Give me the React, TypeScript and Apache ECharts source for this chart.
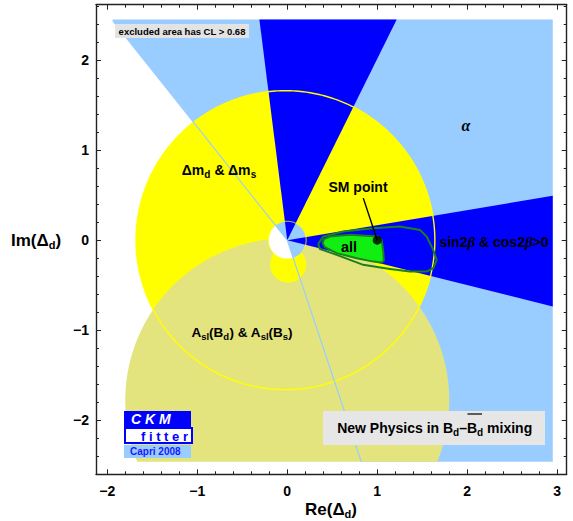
import React, { useEffect, useRef } from 'react';
import * as echarts from 'echarts';

type P = [number, number];

// ---------------- data ----------------
const xRange = [-2.125, 3.105];
const yRange = [-2.6, 2.615];
// constraint area actually scanned: [xmin, xmax, ymin, ymax]
const scanBox = [-1.94, 2.95, -2.46, 2.45];
// alpha constraint: allowed wedge (degrees, counter-clockwise from a0 to a1)
const alphaWedge = [-71.5, 128.5];
// sin2beta & cos2beta>0 wedges (degrees)
const betaWedges = [
  [-14.0, 9.5],
  [63.6, 97.2],
];
// Delta m_d & Delta m_s : circle [cx, cy, r] and inner hole radius
const dmCircle = [-0.02, 0.0, 1.66];
const dmHoleR = 0.21;
// A_sl(B_d) & A_sl(B_s) : circle [cx, cy, r]
const aslCircle = [0.0, -1.78, 1.8];
// small Delta m patch below the origin [cx, cy, r]
const dmSpot = [0.01, -0.27, 0.2];
// combined fit ("all") : 68% region and outer contour
const allInner: P[] = [
  [0.393, -0.033], [0.408, 0.011], [0.474, 0.04], [0.697, 0.059], [1.011, 0.04],
  [1.049, 0.003], [1.067, -0.127], [1.074, -0.227], [1.049, -0.249], [0.956, -0.238],
  [0.771, -0.2], [0.549, -0.144], [0.419, -0.078],
];
const allOuter: P[] = [
  [0.344, -0.041], [0.4, 0.04], [0.622, 0.096], [0.956, 0.133], [1.252, 0.151],
  [1.474, 0.114], [1.549, 0.04], [1.622, -0.108], [1.66, -0.219], [1.622, -0.311],
  [1.549, -0.349], [1.363, -0.349], [1.141, -0.319], [0.844, -0.274], [0.549, -0.163],
  [0.363, -0.097],
];
const smPoint: P = [1.0, 0.0];
const smPointerStart: P = [0.845, 0.467];

// ---------------- geometry helpers ----------------
const rad = (d: number) => (d * Math.PI) / 180;

function arc(cx: number, cy: number, r: number, a0: number, a1: number, step = 1): P[] {
  const pts: P[] = [];
  const n = Math.max(2, Math.ceil(Math.abs(a1 - a0) / step));
  for (let i = 0; i <= n; i++) {
    const a = rad(a0 + ((a1 - a0) * i) / n);
    pts.push([cx + r * Math.cos(a), cy + r * Math.sin(a)]);
  }
  return pts;
}

function wedge(a0: number, a1: number, r = 20): P[] {
  return [[0, 0] as P, ...arc(0, 0, r, a0, a1)];
}

function clipPoly(poly: P[], box: number[]): P[] {
  const [x0, x1, y0, y1] = box;
  const planes: [number, number, number][] = [
    [0, x0, 1], [0, x1, -1], [1, y0, 1], [1, y1, -1],
  ];
  let out = poly;
  for (const [ax, v, sg] of planes) {
    const inp = out;
    out = [];
    if (!inp.length) break;
    const inside = (p: P) => sg * (p[ax] - v) >= 0;
    const inter = (a: P, b: P): P => {
      const t = (v - a[ax]) / (b[ax] - a[ax]);
      return [a[0] + t * (b[0] - a[0]), a[1] + t * (b[1] - a[1])];
    };
    for (let i = 0; i < inp.length; i++) {
      const cur = inp[i];
      const prev = inp[(i + inp.length - 1) % inp.length];
      const ci = inside(cur);
      const pi = inside(prev);
      if (ci) {
        if (!pi) out.push(inter(prev, cur));
        out.push(cur);
      } else if (pi) out.push(inter(prev, cur));
    }
  }
  return out;
}

function rayEnd(angle: number, box: number[]): P {
  const [x0, x1, y0, y1] = box;
  const c = Math.cos(rad(angle));
  const s = Math.sin(rad(angle));
  let t = Infinity;
  if (c > 1e-9) t = Math.min(t, x1 / c);
  if (c < -1e-9) t = Math.min(t, x0 / c);
  if (s > 1e-9) t = Math.min(t, y1 / s);
  if (s < -1e-9) t = Math.min(t, y0 / s);
  return [t * c, t * s];
}

function polySeries(points: P[], style: any, kind: 'polygon' | 'polyline' = 'polygon') {
  return {
    type: 'custom',
    coordinateSystem: 'cartesian2d',
    silent: true,
    data: [[0, 0]],
    renderItem: (_params: any, api: any) => ({
      type: kind,
      shape: { points: points.map((p) => api.coord(p)) },
      style,
    }),
  };
}

// ---------------- colours ----------------
const LIGHT_BLUE = '#99ccff';
const DARK_BLUE = '#0000ff';
const YELLOW = '#ffff00';
const KHAKI = '#e4e47e';
const GREEN = '#11ee11';
const DARK_GREEN = '#1a801a';
const FONT = '"Liberation Sans", Arial, Helvetica, sans-serif';

const fmt = (v: number) => {
  const r = Math.round(v * 1000) / 1000;
  return Number.isInteger(r) ? String(r).replace('-', '\u2212') : '';
};

export default function App() {
  const ref = useRef<HTMLDivElement>(null);

  useEffect(() => {
    if (!ref.current) return;
    const chart = echarts.init(ref.current, undefined, { renderer: 'svg' });

    const axisCommon = {
      type: 'value',
      splitNumber: 5,
      axisLine: { show: true, onZero: false, lineStyle: { color: '#222', width: 1.4 } },
      axisTick: { show: true, inside: true, length: 5, lineStyle: { color: '#222', width: 1 } },
      minorTick: { show: true, splitNumber: 5, length: 3, lineStyle: { color: '#222', width: 1 } },
      splitLine: { show: false },
    };
    const labelStyle = { color: '#000', fontWeight: 'bold', fontSize: 14, fontFamily: FONT, formatter: fmt };

    const series: any[] = [];
    // alpha
    series.push(polySeries(clipPoly(wedge(alphaWedge[0], alphaWedge[1]), scanBox), { fill: LIGHT_BLUE }));
    // Delta m disk
    series.push(polySeries(arc(dmCircle[0], dmCircle[1], dmCircle[2], 0, 360), { fill: YELLOW }));
    // A_sl disk
    series.push(
      polySeries(clipPoly(arc(aslCircle[0], aslCircle[1], aslCircle[2], 0, 360), scanBox), { fill: KHAKI })
    );
    // small Delta m patch
    series.push(polySeries(arc(dmSpot[0], dmSpot[1], dmSpot[2], 0, 360), { fill: YELLOW }));
    // inner hole of Delta m
    series.push(polySeries(arc(0, 0, dmHoleR, 0, 360), { fill: '#ffffff' }));
    series.push(
      polySeries([[0, 0] as P, ...arc(0, 0, dmHoleR, alphaWedge[0], alphaWedge[1])], { fill: LIGHT_BLUE })
    );
    // sin2beta wedges
    betaWedges.forEach((w) => series.push(polySeries(clipPoly(wedge(w[0], w[1]), scanBox), { fill: DARK_BLUE })));
    // Delta m contours
    series.push(
      polySeries(arc(dmCircle[0], dmCircle[1], dmCircle[2], 0, 360), { fill: 'none', stroke: YELLOW, lineWidth: 1.4 }, 'polyline')
    );
    series.push(
      polySeries(arc(0, 0, dmHoleR, 0, 360), { fill: 'none', stroke: YELLOW, lineWidth: 1 }, 'polyline')
    );
    // alpha boundary rays
    alphaWedge.forEach((a) =>
      series.push(
        polySeries([[0, 0] as P, rayEnd(a, scanBox)], { fill: 'none', stroke: LIGHT_BLUE, lineWidth: 1.2 }, 'polyline')
      )
    );
    // combined fit
    series.push(
      polySeries([...allOuter, allOuter[0]], { fill: 'none', stroke: DARK_GREEN, lineWidth: 2 }, 'polyline')
    );
    series.push(polySeries(allInner, { fill: GREEN, stroke: DARK_GREEN, lineWidth: 2 }));
    // SM pointer
    series.push(
      polySeries([smPointerStart, smPoint], { fill: 'none', stroke: '#000', lineWidth: 1.4 }, 'polyline')
    );
    series.push({
      type: 'scatter',
      silent: true,
      data: [smPoint],
      symbolSize: 9,
      itemStyle: { color: '#000' },
    });

    const bold = (size: number) => ({ fontSize: size, fontWeight: 'bold', fontFamily: FONT, fill: '#000' });
    const sub = (size: number) => ({
      fontSize: size,
      fontWeight: 'bold',
      fontFamily: FONT,
      verticalAlign: 'bottom',
      lineHeight: size,
    });
    const txt = (x: number, y: number, text: string, rich: any, align = 'center') => ({
      type: 'text',
      z: 100,
      x,
      y,
      style: { text, rich, align, verticalAlign: 'middle' },
    });

    const graphic: any[] = [
      // excluded area note
      { type: 'rect', z: 99, shape: { x: 115, y: 24, width: 134, height: 14 }, style: { fill: '#e3e3e3' } },
      txt(182, 31, '{a|excluded area has CL > 0.68}', { a: { ...bold(9.5), lineHeight: 12 } }),
      // alpha
      txt(466, 125, '{a|\u03b1}', {
        a: { fontSize: 16, fontStyle: 'italic', fontWeight: 'bold', fontFamily: '"Liberation Serif", serif' },
      }),
      // Delta m
      txt(219, 170, '{a|\u0394m}{s|d}{a| & \u0394m}{s|s}', {
        a: { ...bold(14), lineHeight: 18 },
        s: sub(10),
      }),
      // SM point
      txt(358, 187, '{a|SM point}', { a: { ...bold(14), lineHeight: 16 } }),
      // all
      txt(349, 247, '{a|all}', { a: { ...bold(14.5), lineHeight: 16 } }),
      // sin2beta
      txt(494, 242, '{a|sin2}{g|\u03b2}{a| & cos2}{g|\u03b2}{a|>0}', {
        a: { ...bold(14), lineHeight: 16 },
        g: { fontSize: 15, fontStyle: 'italic', fontWeight: 'bold', fontFamily: '"Liberation Serif", serif', lineHeight: 16 },
      }),
      // A_sl
      txt(242, 332, '{a|A}{s|sl}{a|(B}{s|d}{a|) & A}{s|sl}{a|(B}{s|s}{a|)}', {
        a: { ...bold(13.5), lineHeight: 18 },
        s: sub(9.5),
      }),
      // New physics box
      { type: 'rect', z: 99, shape: { x: 323, y: 411, width: 222, height: 34 }, style: { fill: '#e6e6e6' } },
      txt(467, 428, '{a|New Physics in B}{s|d}{a|\u2013}', { a: { ...bold(14), lineHeight: 18 }, s: sub(10) }, 'right'),
      txt(467, 428, '{a|B}{s|d}{a| mixing}', { a: { ...bold(14), lineHeight: 18 }, s: sub(10) }, 'left'),
      { type: 'line', z: 101, shape: { x1: 467.5, y1: 414, x2: 482, y2: 414 }, style: { stroke: '#000', lineWidth: 1.2 } },
      // CKMfitter logo
      { type: 'rect', z: 99, shape: { x: 124, y: 411, width: 67, height: 16 }, style: { fill: DARK_BLUE } },
      { type: 'rect', z: 99, shape: { x: 125, y: 428, width: 67, height: 15 }, style: { fill: '#fff', stroke: DARK_BLUE, lineWidth: 2 } },
      { type: 'rect', z: 99, shape: { x: 124, y: 445, width: 67, height: 13 }, style: { fill: LIGHT_BLUE } },
      {
        type: 'text', z: 100, x: 131, y: 419,
        style: { text: 'C K M', fill: '#fff', fontSize: 14, fontWeight: 'bold', fontStyle: 'italic', fontFamily: FONT, align: 'left', verticalAlign: 'middle' },
      },
      {
        type: 'text', z: 100, x: 141, y: 436,
        style: { text: 'f i t t e r', fill: DARK_BLUE, fontSize: 13, fontWeight: 'bold', fontFamily: FONT, align: 'left', verticalAlign: 'middle' },
      },
      {
        type: 'text', z: 100, x: 130, y: 451.5,
        style: { text: 'Capri 2008', fill: '#1a1aff', fontSize: 10, fontWeight: 'bold', fontFamily: FONT, align: 'left', verticalAlign: 'middle' },
      },
      // axis names
      txt(331, 509, '{a|Re(\u0394}{s|d}{a|)}', { a: { ...bold(17), lineHeight: 20 }, s: sub(11) }),
      txt(36, 240, '{a|Im(\u0394}{s|d}{a|)}', { a: { ...bold(17), lineHeight: 20 }, s: sub(11) }),
    ];

    chart.setOption({
      animation: false,
      grid: { left: 96, right: 6.3, top: 4.7, bottom: 46.7, containLabel: false },
      xAxis: [
        { ...axisCommon, min: xRange[0], max: xRange[1], position: 'bottom', axisLabel: { ...labelStyle, margin: 10 } },
        { ...axisCommon, min: xRange[0], max: xRange[1], position: 'top', axisLabel: { show: false } },
      ],
      yAxis: [
        { ...axisCommon, min: yRange[0], max: yRange[1], position: 'left', axisLabel: { ...labelStyle, margin: 7 } },
        { ...axisCommon, min: yRange[0], max: yRange[1], position: 'right', axisLabel: { show: false } },
      ],
      series,
      graphic,
    });

    return () => chart.dispose();
  }, []);

  return (
    <div
      ref={ref}
      style={{ position: 'fixed', left: 0, top: 0, width: 573, height: 521, background: '#fff' }}
    />
  );
}
